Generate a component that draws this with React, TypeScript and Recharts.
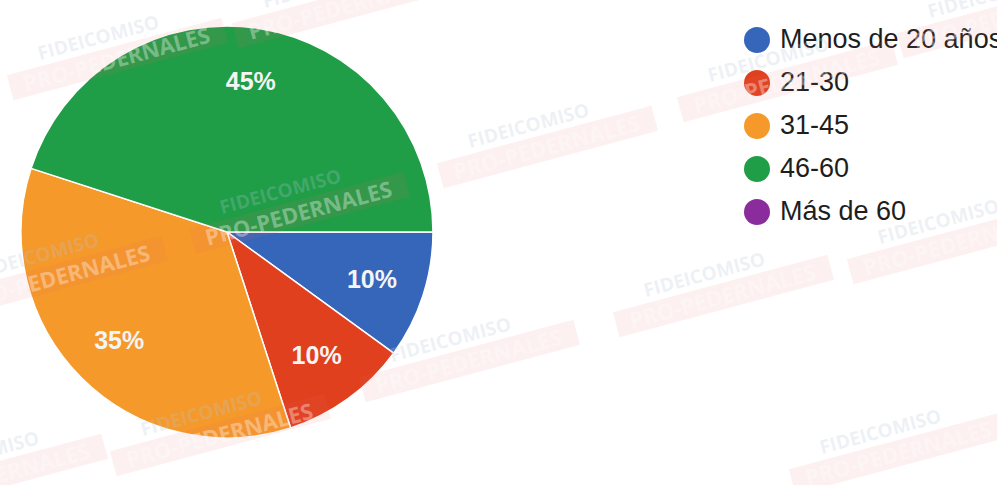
import React from "react";
import { PieChart, Pie, Cell } from "recharts";

// Age groups and share of respondents (%)
const categories = ["Menos de 20 años", "21-30", "31-45", "46-60", "Más de 60"];
const values = [10, 10, 35, 45, 0];
const colors = ["#3566ba", "#e0401d", "#f5992a", "#1f9d47", "#8a2c9c"];

// watermark anchors (x, y of the "FIDEICOMISO" line)
const marks = [
  [100, 44], [325, -8], [530, 132], [282, 198], [40, 262], [770, 66],
  [706, 281], [452, 346], [203, 420], [882, 438], [940, 228], [990, 2], [-20, 460],
];

const data = categories.map((name, i) => ({ name, value: values[i] }));

const RAD = Math.PI / 180;

const renderLabel = (props: any) => {
  const { cx, cy, midAngle, outerRadius, value } = props;
  if (!value) return null;
  const r = outerRadius * 0.74;
  const x = cx + r * Math.cos(-midAngle * RAD);
  const y = cy + r * Math.sin(-midAngle * RAD);
  return (
    <text
      x={x}
      y={y}
      fill="#f4f4f4"
      textAnchor="middle"
      dominantBaseline="central"
      fontSize={25}
      fontWeight={700}
      fontFamily="'Liberation Sans', Arial, sans-serif"
    >
      {value + "%"}
    </text>
  );
};

const Legend = () => (
  <div style={{ position: "absolute", left: 744, top: 18 }}>
    {categories.map((c, i) => (
      <div
        key={c}
        style={{ display: "flex", alignItems: "center", height: 43, whiteSpace: "nowrap" }}
      >
        <span
          style={{
            width: 26,
            height: 26,
            borderRadius: "50%",
            background: colors[i],
            display: "inline-block",
            marginRight: 10,
          }}
        />
        <span
          style={{
            fontFamily: "'Liberation Sans', Arial, sans-serif",
            fontSize: 27,
            color: "#1e1e1e",
          }}
        >
          {c}
        </span>
      </div>
    ))}
  </div>
);

const Watermarks = () => (
  <svg
    width={997}
    height={485}
    style={{ position: "absolute", left: 0, top: 0, pointerEvents: "none" }}
  >
    {marks.map(([x, y], i) => (
      <g key={i} transform={`translate(${x},${y}) rotate(-15)`}>
        <text
          x={0}
          y={0}
          textAnchor="middle"
          fontFamily="'Open Sans', sans-serif"
          fontWeight={700}
          fontSize={19}
          fill="#b8c6d8"
          fillOpacity={0.25}
        >
          FIDEICOMISO
        </text>
        <rect x={-98} y={6} width={222} height={26} fill="#f07070" fillOpacity={0.1} />
        <text
          x={12}
          y={27}
          textAnchor="middle"
          fontFamily="'Open Sans', sans-serif"
          fontWeight={700}
          fontSize={22}
          fill="#ffffff"
          fillOpacity={0.35}
        >
          PRO-PEDERNALES
        </text>
      </g>
    ))}
  </svg>
);

export default function App() {
  return (
    <div
      style={{
        position: "fixed",
        left: 0,
        top: 0,
        width: 997,
        height: 485,
        overflow: "hidden",
        background: "#ffffff",
      }}
    >
      <PieChart width={997} height={485} margin={{ top: 0, right: 0, bottom: 0, left: 0 }}>
        <Pie
          data={data}
          dataKey="value"
          nameKey="name"
          cx={227}
          cy={232}
          outerRadius={206}
          startAngle={0}
          endAngle={-360}
          stroke="#ffffff"
          strokeWidth={1.5}
          label={renderLabel}
          labelLine={false}
          isAnimationActive={false}
        >
          {data.map((d, i) => (
            <Cell key={d.name} fill={colors[i]} />
          ))}
        </Pie>
      </PieChart>
      <Legend />
      <Watermarks />
    </div>
  );
}
